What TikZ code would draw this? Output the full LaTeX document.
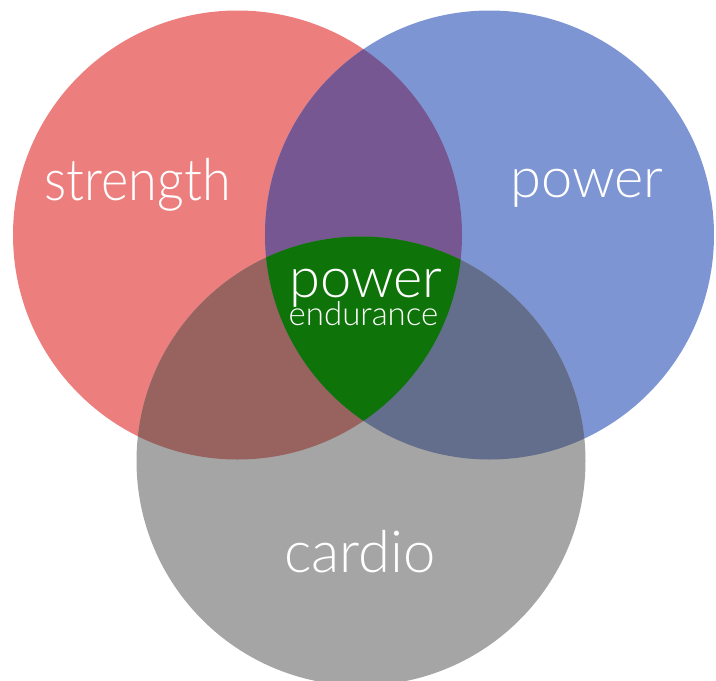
\documentclass[tikz,border=0pt]{standalone}
\usepackage{fontspec}
\setmainfont{Lato Light}
\definecolor{cred}{HTML}{EC7E7E}
\definecolor{cblue}{HTML}{7E95D3}
\definecolor{cgray}{HTML}{A5A5A5}
\definecolor{credblue}{HTML}{775791}
\definecolor{credgray}{HTML}{98625F}
\definecolor{cbluegray}{HTML}{636E8D}
\definecolor{cgreen}{HTML}{0E7308}
\begin{document}
\begin{tikzpicture}[x=1pt,y=-1pt,
  label/.style={text=white,inner sep=0pt,anchor=base}]
\useasboundingbox (0,0) rectangle (716,681);
\clip (0,0) rectangle (716,681);
% the three sets
\def\rr{224.5}
\coordinate (R) at (237.5,235);
\coordinate (B) at (489.5,235);
\coordinate (G) at (361,461);
\fill[cred] (R) circle (\rr);
\fill[cblue] (B) circle (\rr);
\fill[cgray] (G) circle (\rr);
% pairwise overlaps
\begin{scope}
  \clip (R) circle (\rr);
  \fill[credblue] (B) circle (\rr);
\end{scope}
\begin{scope}
  \clip (R) circle (\rr);
  \fill[credgray] (G) circle (\rr);
\end{scope}
\begin{scope}
  \clip (B) circle (\rr);
  \fill[cbluegray] (G) circle (\rr);
\end{scope}
% triple overlap
\begin{scope}
  \clip (R) circle (\rr);
  \clip (B) circle (\rr);
  \fill[cgreen] (G) circle (\rr);
\end{scope}
% labels
\node[label,xscale=0.9,font=\fontsize{58}{58}\selectfont] (s) at (137.5,200) {strength};
\node[label,font=\fontsize{56}{56}\selectfont] (p) at (587,197) {power};
\node[label,font=\fontsize{58}{58}\selectfont] (c) at (360,572) {cardio};
\node[label,font=\fontsize{56}{56}\selectfont] (pe) at (366,297) {power};
\node[label,font=\fontsize{33}{33}\selectfont] (e) at (363.5,325) {endurance};
\end{tikzpicture}
\end{document}
